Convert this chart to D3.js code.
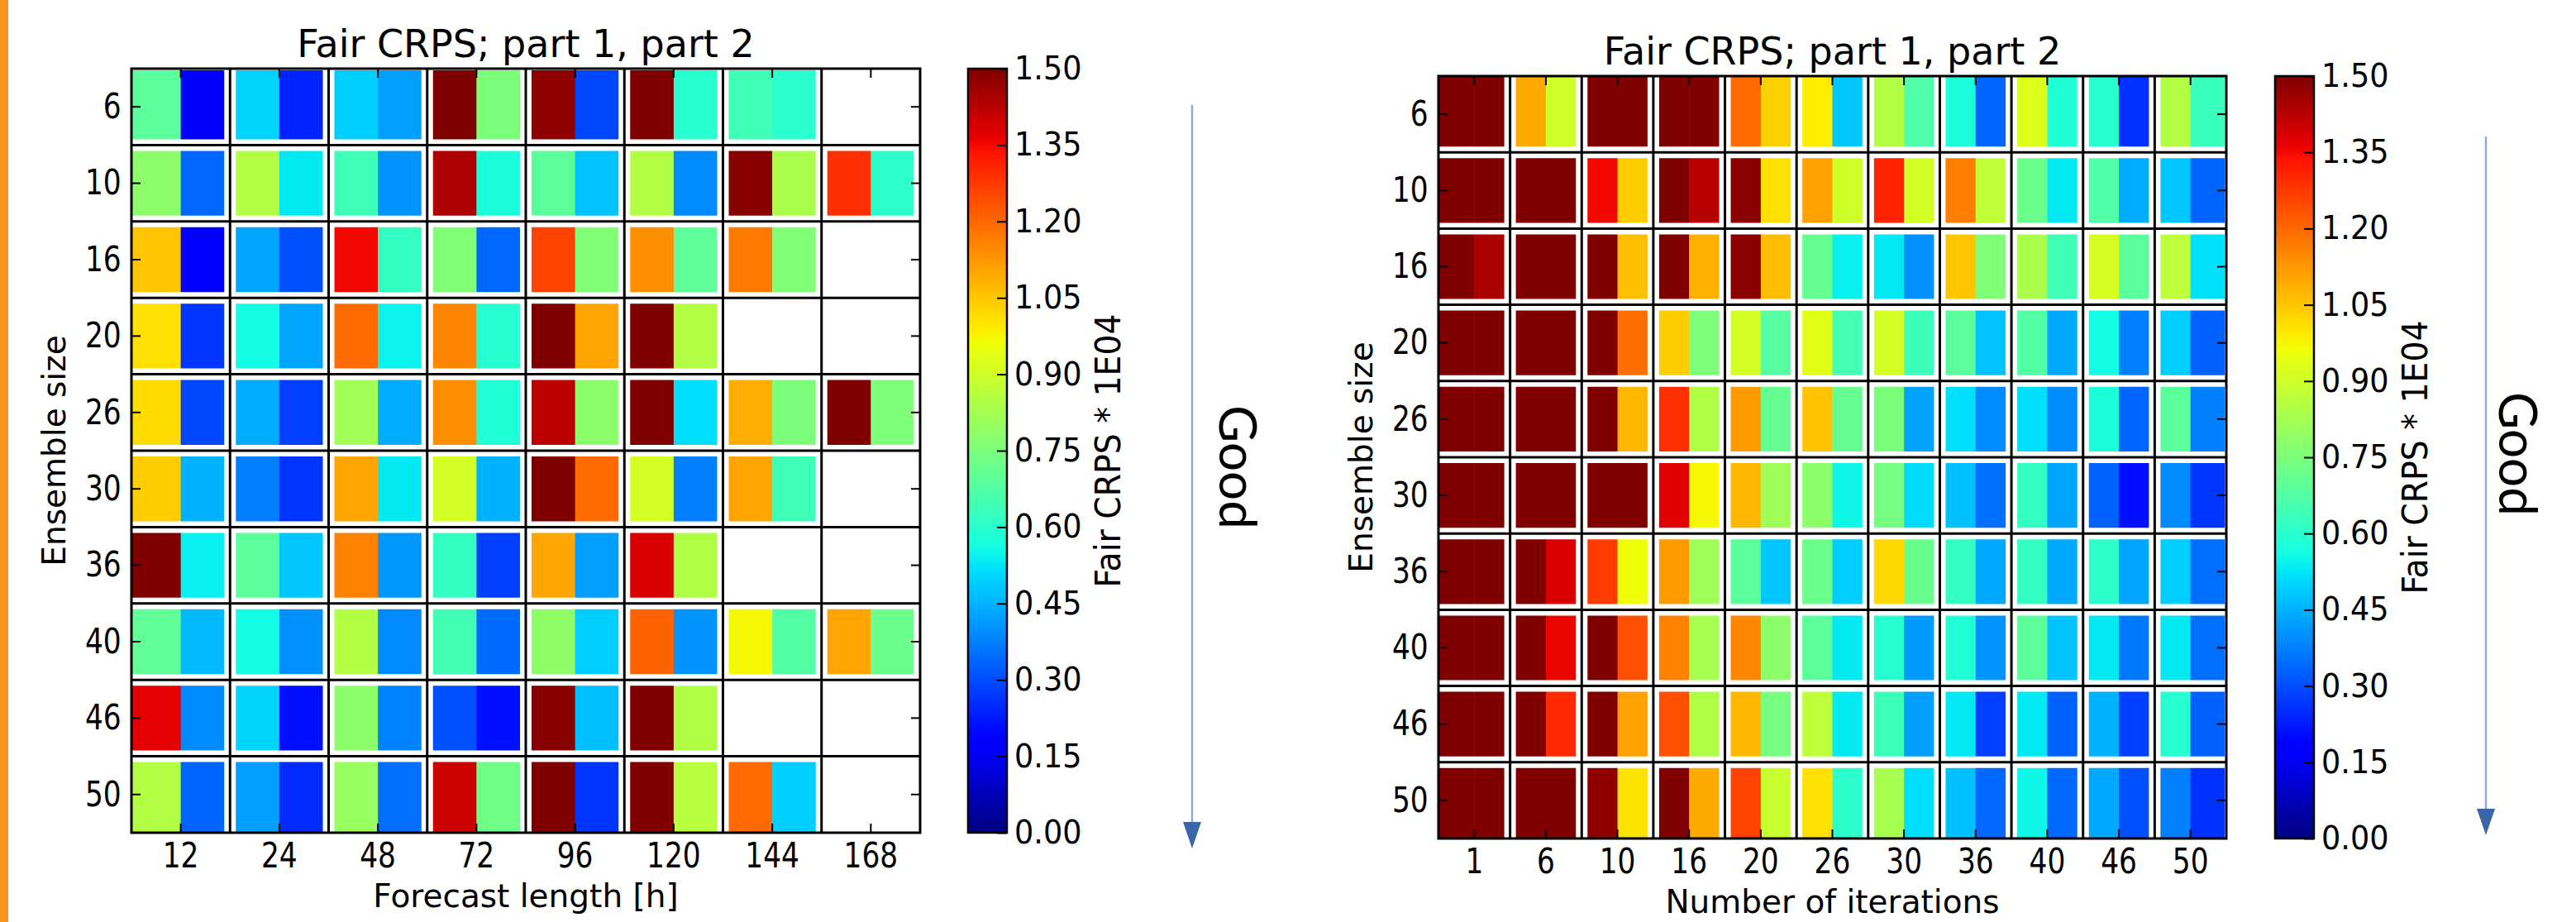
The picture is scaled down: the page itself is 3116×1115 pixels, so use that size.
<!DOCTYPE html>
<html>
<head>
<meta charset="utf-8">
<script src="https://cdn.jsdelivr.net/npm/d3@7"></script>
<style>
  body { margin: 0; background: #fff; }
  svg { display: block; }
</style>
</head>
<body>
<svg id="chart"></svg>
<script>
// ---- data (Fair CRPS * 1E04), rows = ensemble size ----
const ensembleSizes = [6, 10, 16, 20, 26, 30, 36, 40, 46, 50];
const forecastLengths = [12, 24, 48, 72, 96, 120, 144, 168];
const iterationCounts = [1, 6, 10, 16, 20, 26, 30, 36, 40, 46, 50];
const colorbarTicks = [0, 0.15, 0.3, 0.45, 0.6, 0.75, 0.9, 1.05, 1.2, 1.35, 1.5];

// left panel: columns = forecast length [h], null = no run
const lengthPart1 = [
  [0.69, 0.50, 0.49, 1.50, 1.48, 1.50, 0.64, null],
  [0.78, 0.85, 0.64, 1.44, 0.69, 0.85, 1.49, 1.29],
  [1.05, 0.43, 1.35, 0.76, 1.26, 1.14, 1.17, null],
  [1.01, 0.56, 1.195, 1.155, 1.50, 1.50, null, null],
  [1.015, 0.44, 0.82, 1.14, 1.42, 1.50, 1.09, 1.50],
  [1.04, 0.375, 1.105, 0.91, 1.50, 0.91, 1.105, null],
  [1.50, 0.69, 1.16, 0.62, 1.10, 1.385, null, null],
  [0.70, 0.56, 0.85, 0.645, 0.785, 1.21, 0.97, 1.105],
  [1.37, 0.50, 0.78, 0.305, 1.49, 1.50, null, null],
  [0.85, 0.42, 0.80, 1.40, 1.50, 1.50, 1.195, null]
];
const lengthPart2 = [
  [0.16, 0.24, 0.42, 0.75, 0.29, 0.595, 0.60, null],
  [0.34, 0.53, 0.405, 0.575, 0.475, 0.39, 0.835, 0.605],
  [0.17, 0.305, 0.62, 0.34, 0.76, 0.70, 0.76, null],
  [0.265, 0.43, 0.545, 0.595, 1.105, 0.85, null, null],
  [0.29, 0.28, 0.44, 0.585, 0.78, 0.515, 0.75, 0.755],
  [0.45, 0.265, 0.53, 0.45, 1.195, 0.375, 0.64, null],
  [0.54, 0.48, 0.41, 0.28, 0.42, 0.845, null, null],
  [0.46, 0.40, 0.39, 0.345, 0.49, 0.405, 0.675, 0.72],
  [0.39, 0.21, 0.38, 0.21, 0.47, 0.845, null, null],
  [0.335, 0.25, 0.35, 0.73, 0.265, 0.86, 0.49, null]
];

// right panel: columns = number of iterations
const iterPart1 = [
  [1.5, 1.095, 1.5, 1.5, 1.195, 0.99, 0.85, 0.575, 0.925, 0.595, 0.85],
  [1.5, 1.5, 1.35, 1.5, 1.485, 1.11, 1.31, 1.165, 0.72, 0.67, 0.48],
  [1.5, 1.5, 1.5, 1.5, 1.485, 0.71, 0.53, 1.05, 0.835, 0.915, 0.87],
  [1.5, 1.5, 1.5, 1.04, 0.91, 0.935, 0.91, 0.69, 0.675, 0.56, 0.49],
  [1.5, 1.5, 1.5, 1.29, 1.12, 1.055, 0.75, 0.515, 0.515, 0.575, 0.69],
  [1.5, 1.5, 1.5, 1.375, 1.075, 0.78, 0.74, 0.47, 0.62, 0.33, 0.39],
  [1.5, 1.5, 1.27, 1.12, 0.69, 0.72, 1.02, 0.62, 0.62, 0.605, 0.49],
  [1.5, 1.5, 1.5, 1.16, 1.15, 0.69, 0.595, 0.585, 0.69, 0.53, 0.53],
  [1.5, 1.5, 1.5, 1.24, 1.075, 0.87, 0.635, 0.53, 0.53, 0.45, 0.595],
  [1.5, 1.5, 1.48, 1.5, 1.26, 1.01, 0.83, 0.47, 0.55, 0.435, 0.375]
];
const iterPart2 = [
  [1.5, 0.90, 1.5, 1.5, 1.035, 0.48, 0.67, 0.335, 0.585, 0.26, 0.63],
  [1.5, 1.5, 1.04, 1.43, 1.01, 0.90, 0.91, 0.875, 0.53, 0.44, 0.335],
  [1.445, 1.5, 1.06, 1.085, 1.065, 0.54, 0.40, 0.76, 0.64, 0.69, 0.52],
  [1.5, 1.5, 1.19, 0.755, 0.68, 0.65, 0.635, 0.475, 0.435, 0.375, 0.33],
  [1.5, 1.5, 1.075, 0.845, 0.71, 0.71, 0.425, 0.39, 0.39, 0.335, 0.375],
  [1.5, 1.5, 1.5, 0.97, 0.815, 0.55, 0.51, 0.35, 0.43, 0.21, 0.265],
  [1.5, 1.385, 0.96, 0.815, 0.48, 0.49, 0.715, 0.435, 0.435, 0.43, 0.35],
  [1.5, 1.36, 1.24, 0.83, 0.78, 0.53, 0.415, 0.405, 0.475, 0.365, 0.35],
  [1.5, 1.30, 1.11, 0.845, 0.74, 0.53, 0.42, 0.28, 0.33, 0.28, 0.33],
  [1.5, 1.5, 1.005, 1.095, 0.89, 0.605, 0.515, 0.34, 0.34, 0.305, 0.26]
];

// ---- matplotlib "jet" colormap, vmin 0, vmax 1.5 ----
const jetR = d3.scaleLinear().domain([0, 0.35, 0.66, 0.89, 1]).range([0, 0, 1, 1, 0.5]).clamp(true);
const jetG = d3.scaleLinear().domain([0, 0.125, 0.375, 0.64, 0.91, 1]).range([0, 0, 1, 1, 0, 0]).clamp(true);
const jetB = d3.scaleLinear().domain([0, 0.11, 0.34, 0.65, 1]).range([0.5, 1, 1, 0, 0]).clamp(true);
const jet = t => d3.rgb(255 * jetR(t), 255 * jetG(t), 255 * jetB(t)).formatHex();
const norm = d3.scaleLinear().domain([0, 1.5]).range([0, 1]).clamp(true);
const color = v => jet(norm(v));

const W = 3116, H = 1115;
const svg = d3.select("#chart").attr("width", W).attr("height", H);
svg.append("rect").attr("width", W).attr("height", H).attr("fill", "#fff");

// orange strip on the left edge
svg.append("rect").attr("x", 0).attr("y", 0).attr("width", 10).attr("height", H).attr("fill", "#F7941D");

const FONT = "DejaVu Sans";

function styleTickText(sel, size, sx) {
  sel.attr("font-size", size).attr("font-family", FONT).attr("fill", "#000")
    .attr("transform", `scale(${sx},1)`);
}

function drawPanel(cfg) {
  const { left, top, width, height, cols, part1, part2, xLabel, rightGap, topGap } = cfg;
  const g = svg.append("g");

  const x = d3.scaleBand().domain(cols).range([left, left + width]);
  const y = d3.scaleBand().domain(ensembleSizes).range([top, top + height]);
  const half = d3.scaleBand().domain([0, 1]).range([0, x.bandwidth()]);

  const cells = [];
  ensembleSizes.forEach((row, i) => cols.forEach((col, j) => {
    [part1[i][j], part2[i][j]].forEach((v, p) => {
      if (v != null) cells.push({ row, col, part: p, value: v });
    });
  }));

  g.append("g").selectAll("rect")
    .data(cells)
    .join("rect")
    .attr("x", d => x(d.col) + half(d.part))
    .attr("y", d => y(d.row))
    .attr("width", half.bandwidth() + 0.5)
    .attr("height", y.bandwidth())
    .attr("fill", d => color(d.value));

  // white gaps then thin black separators between cells
  const vBounds = cols.slice(1).map(c => x(c));
  const hBounds = ensembleSizes.slice(1).map(r => y(r));
  [["#fff", 14], ["#000", 3]].forEach(([stroke, sw]) => {
    const sep = g.append("g").attr("stroke", stroke).attr("stroke-width", sw);
    sep.selectAll(".v").data(vBounds).join("line").attr("class", "v")
      .attr("x1", d => d).attr("x2", d => d).attr("y1", top).attr("y2", top + height);
    sep.selectAll(".h").data(hBounds).join("line").attr("class", "h")
      .attr("y1", d => d).attr("y2", d => d).attr("x1", left).attr("x2", left + width);
    if (stroke === "#fff") {
      g.append("rect").attr("x", left + width - rightGap).attr("y", top)
        .attr("width", rightGap).attr("height", height).attr("fill", "#fff");
      g.append("rect").attr("x", left).attr("y", top)
        .attr("width", width).attr("height", topGap).attr("fill", "#fff");
    }
  });

  // frame
  g.append("rect").attr("x", left).attr("y", top).attr("width", width).attr("height", height)
    .attr("fill", "none").attr("stroke", "#000").attr("stroke-width", 3);

  const tickLen = 11, sx = 0.8;
  g.append("g").attr("transform", `translate(0,${top + height})`)
    .call(d3.axisBottom(x).tickSizeInner(-tickLen).tickSizeOuter(0).tickPadding(11))
    .call(a => a.select(".domain").remove())
    .call(a => a.selectAll("line").attr("stroke-width", 2))
    .call(a => styleTickText(a.selectAll("text"), 43, sx));
  g.append("g").attr("transform", `translate(${left},0)`)
    .call(d3.axisLeft(y).tickSizeInner(-tickLen).tickSizeOuter(0).tickPadding(12.3 / sx))
    .call(a => a.select(".domain").remove())
    .call(a => a.selectAll("line").attr("stroke-width", 2))
    .call(a => styleTickText(a.selectAll("text"), 43, sx));
  g.append("g").attr("transform", `translate(0,${top})`)
    .call(d3.axisTop(x).tickSizeInner(-tickLen).tickSizeOuter(0).tickFormat(""))
    .call(a => a.select(".domain").remove())
    .call(a => a.selectAll("line").attr("stroke-width", 2));
  g.append("g").attr("transform", `translate(${left + width},0)`)
    .call(d3.axisRight(y).tickSizeInner(-tickLen).tickSizeOuter(0).tickFormat(""))
    .call(a => a.select(".domain").remove())
    .call(a => a.selectAll("line").attr("stroke-width", 2));

  const cx = left + width / 2;
  g.append("text").attr("x", cx).attr("y", top - 14)
    .attr("text-anchor", "middle").attr("font-family", FONT).attr("font-size", 46)
    .text("Fair CRPS; part 1, part 2");
  g.append("text").attr("x", cx).attr("y", top + height + 90)
    .attr("text-anchor", "middle").attr("font-family", FONT).attr("font-size", 39)
    .text(xLabel);
  g.append("text")
    .attr("transform", `translate(${left - 80},${top + height / 2}) rotate(-90)`)
    .attr("text-anchor", "middle").attr("font-family", FONT).attr("font-size", 39)
    .text("Ensemble size");
}

function drawColorbar(cfg) {
  const { left, top, width, height, id } = cfg;
  const g = svg.append("g");
  const grad = svg.append("defs").append("linearGradient").attr("id", id)
    .attr("x1", 0).attr("y1", 1).attr("x2", 0).attr("y2", 0);
  grad.selectAll("stop").data(d3.range(0, 1.0001, 0.01)).join("stop")
    .attr("offset", d => d).attr("stop-color", d => jet(d));

  const s = d3.scaleLinear().domain([0, 1.5]).range([top + height, top]);
  g.append("rect").attr("x", left).attr("y", top).attr("width", width).attr("height", height)
    .attr("fill", `url(#${id})`).attr("stroke", "#000").attr("stroke-width", 2.5);

  const sx = 0.94;
  g.append("g").attr("transform", `translate(${left + width},0)`)
    .call(d3.axisRight(s).tickValues(colorbarTicks).tickFormat(d3.format(".2f"))
      .tickSizeInner(-12).tickSizeOuter(0).tickPadding(9 / sx))
    .call(a => a.select(".domain").remove())
    .call(a => a.selectAll("line").attr("stroke-width", 2))
    .call(a => styleTickText(a.selectAll("text"), 39, sx));

  g.append("text")
    .attr("transform", `translate(${left + width + 137},${top + height / 2}) rotate(-90)`)
    .attr("text-anchor", "middle").attr("font-family", FONT).attr("font-size", 42)
    .attr("textLength", 331).attr("lengthAdjust", "spacingAndGlyphs")
    .text("Fair CRPS * 1E04");
}

function drawGoodArrow(cfg) {
  const { x, y1, y2, textX, textY, size } = cfg;
  const g = svg.append("g");
  g.append("line").attr("x1", x).attr("x2", x).attr("y1", y1).attr("y2", y2 - 30)
    .attr("stroke", "#8EAADB").attr("stroke-width", 2.5);
  g.append("path")
    .attr("d", d3.line()([[x - 11, y2 - 32], [x + 11, y2 - 32], [x, y2]]) + "Z")
    .attr("fill", "#3A66A8");
  g.append("text")
    .attr("transform", `translate(${textX},${textY}) rotate(90)`)
    .attr("text-anchor", "middle").attr("font-family", "Lato, 'Open Sans', sans-serif")
    .attr("font-size", size).attr("textLength", 150).attr("lengthAdjust", "spacingAndGlyphs")
    .text("Good");
}

// ---- left figure ----
drawPanel({ left: 159, top: 83, width: 954, height: 924, cols: forecastLengths,
  part1: lengthPart1, part2: lengthPart2, xLabel: "Forecast length [h]", rightGap: 8, topGap: 2 });
drawColorbar({ left: 1171, top: 83, width: 47, height: 924, id: "jet-left" });
drawGoodArrow({ x: 1442, y1: 127, y2: 1026, textX: 1475, textY: 565, size: 62 });

// ---- right figure ----
drawPanel({ left: 1740, top: 92, width: 953, height: 922, cols: iterationCounts,
  part1: iterPart1, part2: iterPart2, xLabel: "Number of iterations", rightGap: 2, topGap: 1 });
drawColorbar({ left: 2752, top: 92, width: 47, height: 922, id: "jet-right" });
drawGoodArrow({ x: 3007, y1: 165, y2: 1010, textX: 3023, textY: 549, size: 64 });
</script>
</body>
</html>
